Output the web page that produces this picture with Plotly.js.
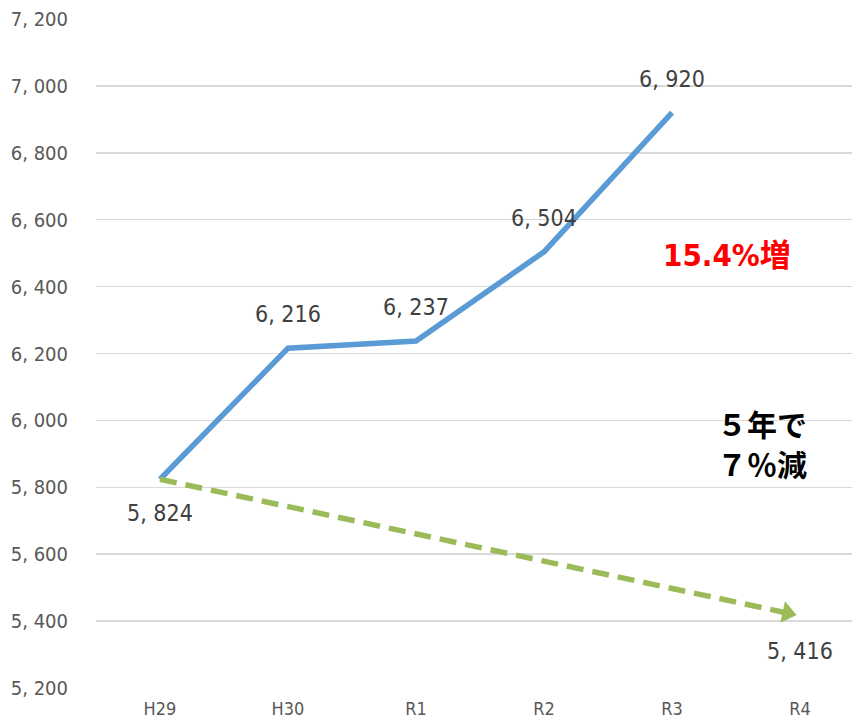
<!DOCTYPE html>
<html>
<head>
<meta charset="utf-8">
<script src="https://cdn.plot.ly/plotly-3.0.1.min.js"></script>
<style>html,body{margin:0;padding:0;background:#fff;}#chart{width:852px;height:719px;}</style>
</head>
<body>
<div id="chart"></div>
<script>
// Data
const categories = ["H29", "H30", "R1", "R2", "R3", "R4"];
const actualYears = ["H29", "H30", "R1", "R2", "R3"];
const actualValues = [5824, 6216, 6237, 6504, 6920];
const targetYears = ["H29", "R4"];
const targetValues = [5824, 5416];
const yTickVals = [5200, 5400, 5600, 5800, 6000, 6200, 6400, 6600, 6800, 7000, 7200];
const increaseText = "15.4%増";
const decreaseLines = ["５年で", "７％減"];

function fmt(v) { return v.toLocaleString("en-US").replace(",", ", "); }

const narrow = "'DejaVu Sans Condensed', 'Liberation Sans Narrow', Arial, sans-serif";

const traces = [
  {
    x: actualYears, y: actualValues, type: "scatter", mode: "lines",
    line: {color: "#5b9bd5", width: 5.5}, hoverinfo: "none"
  },
  {
    x: targetYears, y: targetValues, type: "scatter", mode: "lines+markers",
    line: {color: "#9bbb59", width: 5.5, dash: "17px,9px", backoff: 12},
    marker: {symbol: ["circle", "triangle-up"], size: [0, 19], angleref: "previous", standoff: [0, 13],
             color: "#9bbb59", opacity: 1, line: {width: 0}},
    hoverinfo: "none"
  }
];

const annotations = [];
actualYears.forEach((c, i) => {
  annotations.push({
    x: c, y: actualValues[i], xref: "x", yref: "y", showarrow: false,
    text: fmt(actualValues[i]), yshift: i === 0 ? -34 : 34,
    font: {family: narrow, size: 23, color: "#404040"}
  });
});
annotations.push({
  x: targetYears[1], y: targetValues[1], xref: "x", yref: "y", showarrow: false,
  text: fmt(targetValues[1]), yshift: -35,
  font: {family: narrow, size: 23, color: "#404040"}
});
annotations.push({
  x: 4.43, y: 6495, xref: "x", yref: "y", showarrow: false, text: increaseText,
  font: {family: "'DejaVu Sans Condensed', 'Noto Sans CJK JP', sans-serif", size: 31, color: "#ff0000", weight: "bold"}
});
decreaseLines.forEach((t, i) => {
  annotations.push({
    x: 4.7, y: i === 0 ? 5993 : 5873, xref: "x", yref: "y", showarrow: false, text: t,
    font: {family: "'Noto Sans CJK JP', sans-serif", size: 30, color: "#000000", weight: "bold"}
  });
});

const layout = {
  width: 852, height: 719,
  margin: {l: 96, r: 0, t: 19, b: 31},
  paper_bgcolor: "#ffffff", plot_bgcolor: "#ffffff",
  showlegend: false,
  xaxis: {
    type: "category", categoryarray: categories, range: [-0.5, 5.406],
    showgrid: false, zeroline: false, showline: false, ticks: "",
    ticklabelstandoff: 8,
    tickfont: {family: narrow, size: 18, color: "#595959"}
  },
  yaxis: {
    range: [5200, 7200], tickvals: yTickVals, ticktext: yTickVals.map(fmt),
    showgrid: true, gridcolor: "#d9d9d9", gridwidth: 1.5, zeroline: false, showline: false,
    ticks: "", ticklabelstandoff: 27,
    tickfont: {family: narrow, size: 20, color: "#595959"}
  },
  annotations: annotations
};

Plotly.newPlot("chart", traces, layout, {staticPlot: true, displayModeBar: false});
</script>
</body>
</html>
